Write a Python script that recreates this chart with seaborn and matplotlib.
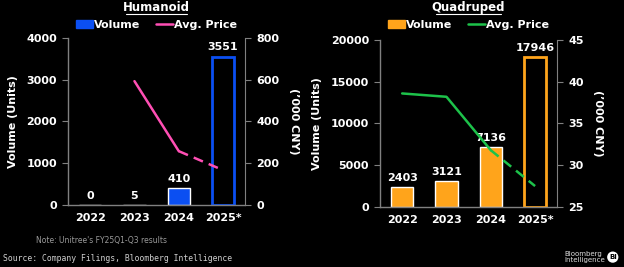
import seaborn as sns
import matplotlib.pyplot as plt
import pandas as pd
from matplotlib.patches import Patch
from matplotlib.lines import Line2D

years = ['2022', '2023', '2024', '2025*']
hum_volume = [0, 5, 410, 3551]
hum_price = [None, 593, 258, 167]
quad_volume = [2403, 3121, 7136, 17946]
quad_price = [38.6, 38.2, 31.8, 27.5]

sns.set_style('dark')
plt.rcParams['font.family'] = ['DejaVu Sans']

BG = 'black'
GRID = '#808080'

fig = plt.figure(figsize=(6.24, 2.67), dpi=100, facecolor=BG)


def panel(rect, title, vol, price, bar_color, line_color, vmax, pmin, pmax, vticks, pticks):
    ax = fig.add_axes(rect)
    ax.set_facecolor(BG)
    df = pd.DataFrame({'year': years, 'vol': vol})
    sns.barplot(data=df, x='year', y='vol', color=bar_color, width=0.5, ax=ax,
                saturation=1)
    # last bar is an estimate -> outline only
    last = ax.patches[-1]
    last.set_facecolor(BG)
    last.set_edgecolor(bar_color)
    last.set_linewidth(2)
    for i, v in enumerate(vol):
        ax.text(i, v + vmax * 0.025, f'{v}', ha='center', va='bottom',
                color='white', fontsize=8, fontweight='bold')
    ax.set_ylim(0, vmax)
    ax.set_xlim(-0.5, 3.5)
    ax.set_yticks(vticks)
    ax.set_xlabel('')
    ax.set_ylabel('Volume (Units)', color='white', fontsize=8, fontweight='bold',
                  labelpad=6)
    ax.set_xticks([0, 1, 2, 3])
    ax.set_xticklabels(years)
    ax.tick_params(axis='x', length=0, pad=6)
    ax.set_xticks([0.5, 1.5, 2.5], minor=True)
    ax.tick_params(axis='x', which='minor', length=4, color=GRID, direction='out')
    ax.tick_params(axis='y', length=4, color=GRID, direction='out', pad=4)
    for lab in ax.get_xticklabels() + ax.get_yticklabels():
        lab.set_color('white')
        lab.set_fontsize(8)
        lab.set_fontweight('bold')
    for s in ['top', 'right']:
        ax.spines[s].set_visible(False)
    for s in ['left', 'bottom']:
        ax.spines[s].set_visible(True)
        ax.spines[s].set_color(GRID)
        ax.spines[s].set_linewidth(1)
    ax.grid(False)

    ax2 = ax.twinx()
    pdf = pd.DataFrame({'x': [0, 1, 2, 3], 'p': price}).dropna()
    solid = pdf[pdf['x'] <= 2]
    dashed = pdf[pdf['x'] >= 2]
    sns.lineplot(x=solid['x'], y=solid['p'], color=line_color, lw=1.8, ax=ax2)
    sns.lineplot(x=dashed['x'], y=dashed['p'], color=line_color, lw=1.8,
                 ax=ax2, linestyle=(0, (4, 2.5)))
    ax2.set_ylim(pmin, pmax)
    ax2.set_yticks(pticks)
    ax2.set_xlim(-0.5, 3.5)
    ax2.set_ylabel("(\u2019000 CNY)", color='white', fontsize=8, fontweight='bold',
                   rotation=270, labelpad=14)
    ax2.tick_params(axis='y', length=4, color=GRID, direction='out', pad=4)
    for lab in ax2.get_yticklabels():
        lab.set_color('white')
        lab.set_fontsize(8)
        lab.set_fontweight('bold')
    for s in ['top', 'left', 'bottom']:
        ax2.spines[s].set_visible(False)
    ax2.spines['right'].set_visible(True)
    ax2.spines['right'].set_color(GRID)
    ax2.grid(False)

    cx = rect[0] + rect[2] / 2
    fig.text(cx, 0.973, title, ha='center', va='center', color='white',
             fontsize=8.5, fontweight='bold')
    t_w = 0.098 if title == 'Humanoid' else 0.105
    fig.add_artist(Line2D([cx - t_w / 2, cx + t_w / 2], [0.949, 0.949],
                          color='white', lw=0.8, transform=fig.transFigure))
    handles = [Patch(facecolor=bar_color, edgecolor=bar_color, label='Volume'),
               Line2D([0], [0], color=line_color, lw=1.8, label='Avg. Price')]
    leg = fig.legend(handles=handles, loc='center', bbox_to_anchor=(cx, 0.908),
                     ncol=2, frameon=False, fontsize=8, handlelength=1.5,
                     handleheight=0.7, columnspacing=1.4, handletextpad=0.1,
                     borderpad=0)
    for t in leg.get_texts():
        t.set_color('white')
        t.set_fontweight('bold')
    return ax, ax2


panel([0.109, 0.232, 0.284, 0.626], 'Humanoid', hum_volume, hum_price,
      '#0b4ff2', '#ff4fb4', 4000, 0, 800, [0, 1000, 2000, 3000, 4000],
      [0, 200, 400, 600, 800])
panel([0.609, 0.225, 0.284, 0.625], 'Quadruped', quad_volume, quad_price,
      '#ffa41b', '#1dc24a', 20000, 25, 45, [0, 5000, 10000, 15000, 20000],
      [25, 30, 35, 40, 45])

fig.text(0.058, 0.1, "Note: Unitree's FY25Q1-Q3 results", color='#9a9a9a',
         fontsize=5.5, va='center', ha='left')
fig.text(0.005, 0.033, 'Source: Company Filings, Bloomberg Intelligence',
         color='#cfcfcf', fontsize=5.9, va='center', ha='left',
         family='DejaVu Sans Mono')
fig.text(0.905, 0.037, 'Bloomberg\nIntelligence', color='#dddddd', fontsize=5,
         va='center', ha='left', linespacing=0.95)
fig.text(0.982, 0.037, 'BI', color='black', fontsize=5, fontweight='bold',
         ha='center', va='center',
         bbox=dict(boxstyle='circle,pad=0.25', facecolor='white', edgecolor='none'))

fig.savefig('out.png', dpi=100, facecolor=BG)
